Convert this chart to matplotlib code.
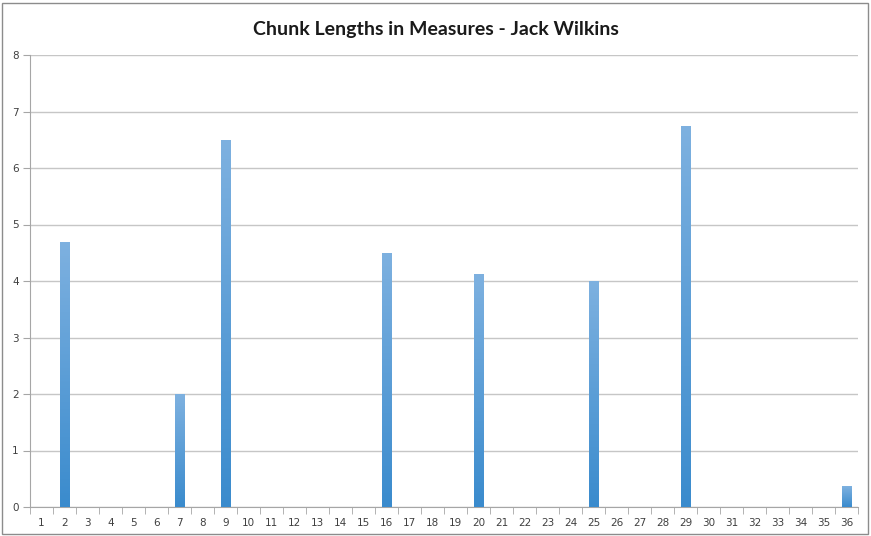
import numpy as np
import matplotlib.pyplot as plt
from matplotlib.colors import LinearSegmentedColormap
from matplotlib.patches import Rectangle

# chunk lengths per chunk index (1..36)
chunks = np.arange(1, 37)
lengths = np.zeros(36)
nonzero = {2: 4.69, 7: 2.0, 9: 6.5, 16: 4.5, 20: 4.13, 25: 4.0, 29: 6.75, 36: 0.37}
for k, v in nonzero.items():
    lengths[k - 1] = v

title = "Chunk Lengths in Measures - Jack Wilkins"

fig = plt.figure(figsize=(8.71, 5.36), dpi=100)
# outer chart border like the excel chart area
fig.patches.append(Rectangle((0.002, 0.004), 0.994, 0.99, transform=fig.transFigure,
                             fill=False, edgecolor="#8c8c8c", linewidth=1))
ax = fig.add_axes([30 / 871, 1 - 507 / 536, 828 / 871, 452 / 536])

bars = ax.bar(chunks, lengths, width=0.4, color="none", zorder=3)

# vertical gradient, lighter at top
cmap = LinearSegmentedColormap.from_list("excel_blue", ["#3a8bcd", "#7eb1e0"])
grad = np.linspace(0, 1, 256).reshape(-1, 1)
for b in bars:
    h = b.get_height()
    if h <= 0:
        continue
    x0 = b.get_x()
    im = ax.imshow(grad, cmap=cmap, origin="lower", aspect="auto",
                   extent=(x0, x0 + b.get_width(), 0, h), zorder=3,
                   interpolation="bilinear")
    im.set_clip_path(b)

ax.set_xlim(0.5, 36.5)
ax.set_ylim(0, 8)
ax.set_xticks(chunks)
ax.set_xticklabels([str(c) for c in chunks])
ax.set_xticks(np.arange(0.5, 37, 1), minor=True)
ax.tick_params(axis="x", which="major", length=0, labelsize=7.5, colors="#404040", pad=8)
ax.tick_params(axis="x", which="minor", length=5, color="#a6a6a6", direction="out")
ax.set_yticks(range(0, 9))
ax.tick_params(axis="y", length=5, color="#a6a6a6", labelsize=7.5, labelcolor="#404040", pad=3)

ax.grid(axis="y", color="#c6c6c6", linewidth=1, zorder=0)
ax.set_axisbelow(True)
for s in ["top", "right"]:
    ax.spines[s].set_visible(False)
ax.spines["left"].set_color("#a6a6a6")
ax.spines["bottom"].set_color("#a6a6a6")

fig.text(0.5, 1 - 29 / 536, title, ha="center", va="center",
         fontsize=14, fontweight="bold", family="Lato", color="#1a1a1a")

fig.savefig("out.png", dpi=100)
